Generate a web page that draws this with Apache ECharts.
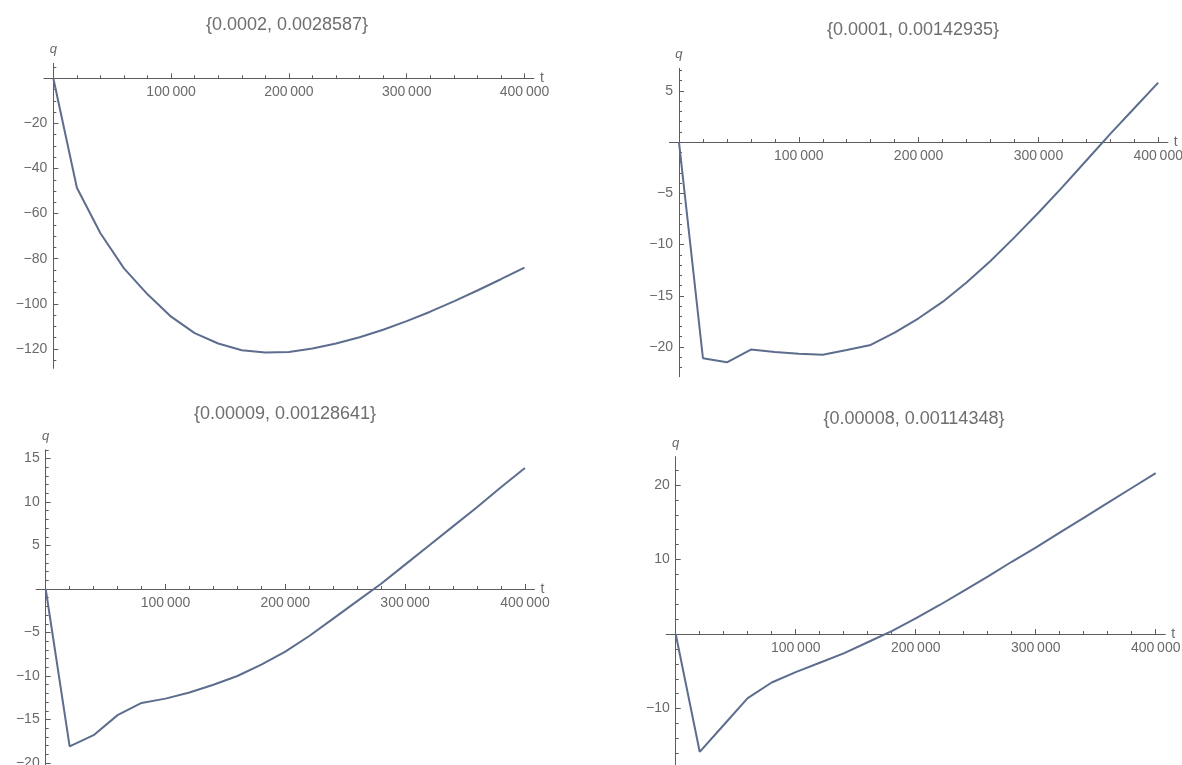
<!DOCTYPE html>
<html>
<head>
<meta charset="utf-8">
<title>q(t) for four parameter pairs</title>
<script src="https://cdn.jsdelivr.net/npm/echarts@6/dist/echarts.min.js"></script>
<style>
  html, body { margin: 0; padding: 0; background: #ffffff; }
  #chart { width: 1182px; height: 765px; }
</style>
</head>
<body>
<div id="chart"></div>
<script>
// Sample times (t) shared by every panel
const T = [0, 20000, 40000, 60000, 80000, 100000, 120000, 140000, 160000, 180000, 200000,
           220000, 240000, 260000, 280000, 300000, 320000, 340000, 360000, 380000, 400000];

// q(t) for each parameter pair
const Q_A = [0, -48.5, -68.7, -84.3, -95.8, -105.7, -113.0, -117.6, -120.6, -121.6, -121.4,
             -119.8, -117.6, -114.8, -111.5, -107.7, -103.5, -98.9, -94.1, -89.1, -84.0];
const Q_B = [0, -21.1, -21.5, -20.25, -20.5, -20.65, -20.75, -20.3, -19.8, -18.6, -17.2,
             -15.6, -13.7, -11.6, -9.3, -6.9, -4.4, -1.8, 0.8, 3.3, 5.8];
const Q_C = [0, -18.1, -16.8, -14.5, -13.1, -12.6, -11.9, -11.0, -10.0, -8.7, -7.2,
             -5.4, -3.4, -1.4, 0.6, 2.8, 5.0, 7.2, 9.4, 11.7, 13.9];
const Q_D = [0, -15.8, -12.2, -8.6, -6.5, -5.1, -3.85, -2.6, -1.1, 0.4, 2.1,
             3.9, 5.8, 7.7, 9.7, 11.6, 13.6, 15.6, 17.6, 19.6, 21.6];

// Panel titles
const TITLES = ['{0.0002, 0.0028587}', '{0.0001, 0.00142935}',
                '{0.00009, 0.00128641}', '{0.00008, 0.00114348}'];

// Labelled ticks
const X_TICKS = [100000, 200000, 300000, 400000];
const Y_TICKS_A = [-120, -100, -80, -60, -40, -20];
const Y_TICKS_B = [-20, -15, -10, -5, 5];
const Y_TICKS_C = [-20, -15, -10, -5, 5, 10, 15];
const Y_TICKS_D = [-10, 10, 20];

// Axis ranges [xMin, xMax, yMin, yMax]
const RANGES = [
  [-8000, 408000, -128.6, 6.65],
  [-8000, 408000, -22.9, 7.2],
  [-8000, 408000, -20.3, 16.0],
  [-8000, 408000, -17.8, 23.8]
];

// Minor tick step on each axis
const MINOR_X_STEP = 20000;
const MINOR_Y_STEPS = [5, 1, 1, 2];

// Panel placement (pixels) and title anchors
const LAYOUT = [
  { grid: { left: 43.9, top: 63.3, width: 490, height: 305 }, title: [287, 25] },
  { grid: { left: 669.4, top: 68.3, width: 498.4, height: 308.4 }, title: [913, 30] },
  { grid: { left: 36.1, top: 449.8, width: 498.4, height: 315.8 }, title: [285, 414] },
  { grid: { left: 666.1, top: 456.7, width: 499.2, height: 310 }, title: [914, 419] }
];

const SERIES = [Q_A, Q_B, Q_C, Q_D];
const Y_TICKS = [Y_TICKS_A, Y_TICKS_B, Y_TICKS_C, Y_TICKS_D];

const FONT = '"Liberation Sans", Arial, sans-serif';
const AXIS_COLOR = '#5c5c5c';
const LABEL_COLOR = '#6a6a6a';
const LINE_COLOR = '#5d6d8e';

// Minor tick positions between lo and hi, skipping the labelled ones and zero
function minorTicks(lo, hi, step, major) {
  const out = [];
  const start = Math.ceil(lo / step) * step;
  for (let v = start; v <= hi + 1e-9; v += step) {
    const r = Math.round(v * 1000) / 1000;
    if (r === 0) continue;
    if (major.indexOf(r) >= 0) continue;
    out.push(r);
  }
  return out;
}

function fmtX(v) {
  const s = String(Math.round(v));
  return s.length > 3 ? s.slice(0, s.length - 3) + '\u2009' + s.slice(s.length - 3) : s;
}
function fmtY(v) {
  return String(v).replace('-', '\u2212');
}

const option = {
  animation: false,
  backgroundColor: '#ffffff',
  title: [], grid: [], xAxis: [], yAxis: [], series: []
};

LAYOUT.forEach(function (lay, i) {
  const r = RANGES[i];
  const g = lay.grid;
  // Axes cross at the origin: shift each axis from the grid edge to the zero of the other
  const xAxisShift = -(0 - r[2]) / (r[3] - r[2]) * g.height;
  const yAxisShift = -(0 - r[0]) / (r[1] - r[0]) * g.width;

  option.title.push({
    text: TITLES[i],
    left: lay.title[0], top: lay.title[1],
    padding: 0,
    textAlign: 'center', textVerticalAlign: 'middle',
    textStyle: { fontFamily: FONT, fontSize: 18, fontWeight: 'normal', color: '#6e6e6e' }
  });
  // keep the plot box fixed; labels may run past the canvas edge
  option.grid.push(Object.assign({ containLabel: false, outerBoundsMode: 'none' }, g));

  const xMajorIdx = option.xAxis.length;
  const yMajorIdx = option.yAxis.length;

  // x axis: line, labelled ticks, name
  option.xAxis.push({
    type: 'value', gridIndex: i, min: r[0], max: r[1], position: 'bottom', offset: xAxisShift,
    axisLine: { show: true, onZero: false, lineStyle: { color: AXIS_COLOR, width: 1 } },
    axisTick: { show: true, inside: true, length: 5, customValues: X_TICKS,
                lineStyle: { color: AXIS_COLOR, width: 1 } },
    axisLabel: { show: true, customValues: X_TICKS, formatter: fmtX, margin: 7,
                 color: LABEL_COLOR, fontFamily: FONT, fontSize: 14 },
    splitLine: { show: false },
    name: 't', nameLocation: 'end', nameGap: 6,
    nameTextStyle: { color: LABEL_COLOR, fontFamily: FONT, fontSize: 14,
                     verticalAlign: 'middle', padding: [0, 0, 6, 0] }
  });
  // x axis: minor ticks
  option.xAxis.push({
    type: 'value', gridIndex: i, min: r[0], max: r[1], position: 'bottom', offset: xAxisShift,
    axisLine: { show: false, onZero: false },
    axisTick: { show: true, inside: true, length: 3,
                customValues: minorTicks(0, 400000, MINOR_X_STEP, X_TICKS),
                lineStyle: { color: AXIS_COLOR, width: 1 } },
    axisLabel: { show: false },
    splitLine: { show: false }
  });
  // y axis: line, labelled ticks, name
  option.yAxis.push({
    type: 'value', gridIndex: i, min: r[2], max: r[3], position: 'left', offset: yAxisShift,
    axisLine: { show: true, onZero: false, lineStyle: { color: AXIS_COLOR, width: 1 } },
    axisTick: { show: true, inside: true, length: 5, customValues: Y_TICKS[i],
                lineStyle: { color: AXIS_COLOR, width: 1 } },
    axisLabel: { show: true, customValues: Y_TICKS[i], formatter: fmtY, margin: 6,
                 color: LABEL_COLOR, fontFamily: FONT, fontSize: 14 },
    splitLine: { show: false },
    name: 'q', nameLocation: 'end', nameGap: 7,
    nameTextStyle: { color: LABEL_COLOR, fontFamily: FONT, fontSize: 13,
                     fontStyle: 'italic', align: 'center' }
  });
  // y axis: minor ticks
  option.yAxis.push({
    type: 'value', gridIndex: i, min: r[2], max: r[3], position: 'left', offset: yAxisShift,
    axisLine: { show: false, onZero: false },
    axisTick: { show: true, inside: true, length: 3,
                customValues: minorTicks(r[2], r[3], MINOR_Y_STEPS[i], Y_TICKS[i]),
                lineStyle: { color: AXIS_COLOR, width: 1 } },
    axisLabel: { show: false },
    splitLine: { show: false }
  });

  option.series.push({
    type: 'line',
    xAxisIndex: xMajorIdx, yAxisIndex: yMajorIdx,
    data: T.map(function (t, k) { return [t, SERIES[i][k]]; }),
    showSymbol: false, symbol: 'none', smooth: false,
    lineStyle: { color: LINE_COLOR, width: 2 },
    clip: false
  });
});

const chart = echarts.init(document.getElementById('chart'), null, { renderer: 'canvas' });
chart.setOption(option);
</script>
</body>
</html>
